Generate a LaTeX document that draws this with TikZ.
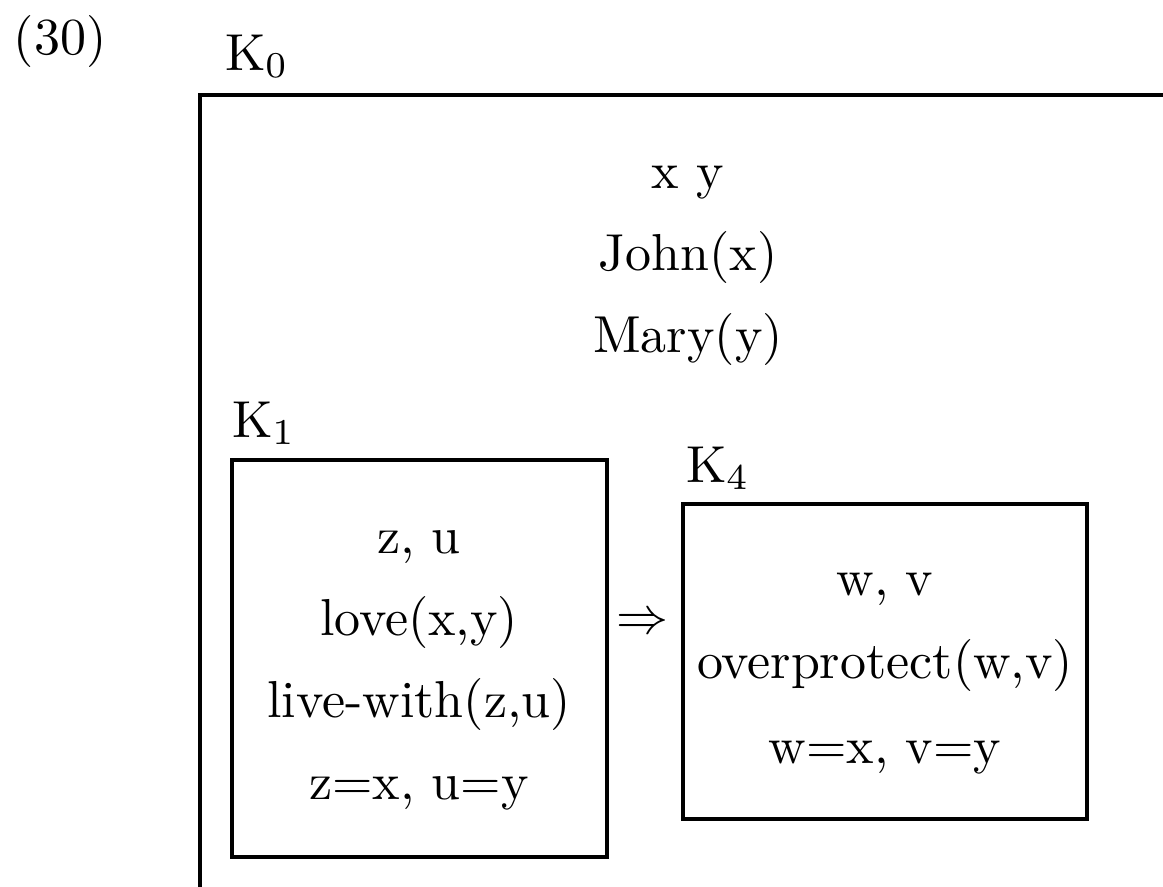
\documentclass[tikz,border=0pt]{standalone}
\usepackage{fontspec}
\usetikzlibrary{fit}
\begin{document}
\begin{tikzpicture}[x=0.19231pt,y=-0.19231pt,
  txt/.style={anchor=base,inner sep=0pt,font=\normalsize},
  lbl/.style={anchor=base west,inner sep=0pt,font=\normalsize},
  drsbox/.style={draw,line width=0.6pt,inner sep=0pt}]
\useasboundingbox (0,0) rectangle (1163,886);
\clip (0,0) rectangle (1163,886);
\node[txt] (num) at (60,54) {(30)};
\node[lbl] (k0lab) at (224,70) {K$_0$};
\node[drsbox, fit={(200,95) (1250,960)}] (k0) {};
\node[txt] (xy) at (688,188) {x y};
\node[txt] (john) at (688,270) {John(x)};
\node[txt] (mary) at (688,352) {Mary(y)};
\node[lbl] (k1lab) at (231,437) {K$_1$};
\node[drsbox, fit={(232,460) (607,857)}] (k1) {};
\node[txt] (zu) at (419,553) {z, u};
\node[txt] (love) at (419,635) {love(x,y)};
\node[txt] (live) at (419,717) {live-with(z,u)};
\node[txt] (zeq) at (419,799) {z=x, u=y};
\node[txt] (arr) at (642,633) {$\Rightarrow$};
\node[lbl] (k4lab) at (685,482) {K$_4$};
\node[drsbox, fit={(683,504) (1087,819)}] (k4) {};
\node[txt] (wv) at (885,595) {w, v};
\node[txt] (over) at (885,678) {overprotect(w,v)};
\node[txt] (weq) at (885,763) {w=x, v=y};
\end{tikzpicture}
\end{document}
